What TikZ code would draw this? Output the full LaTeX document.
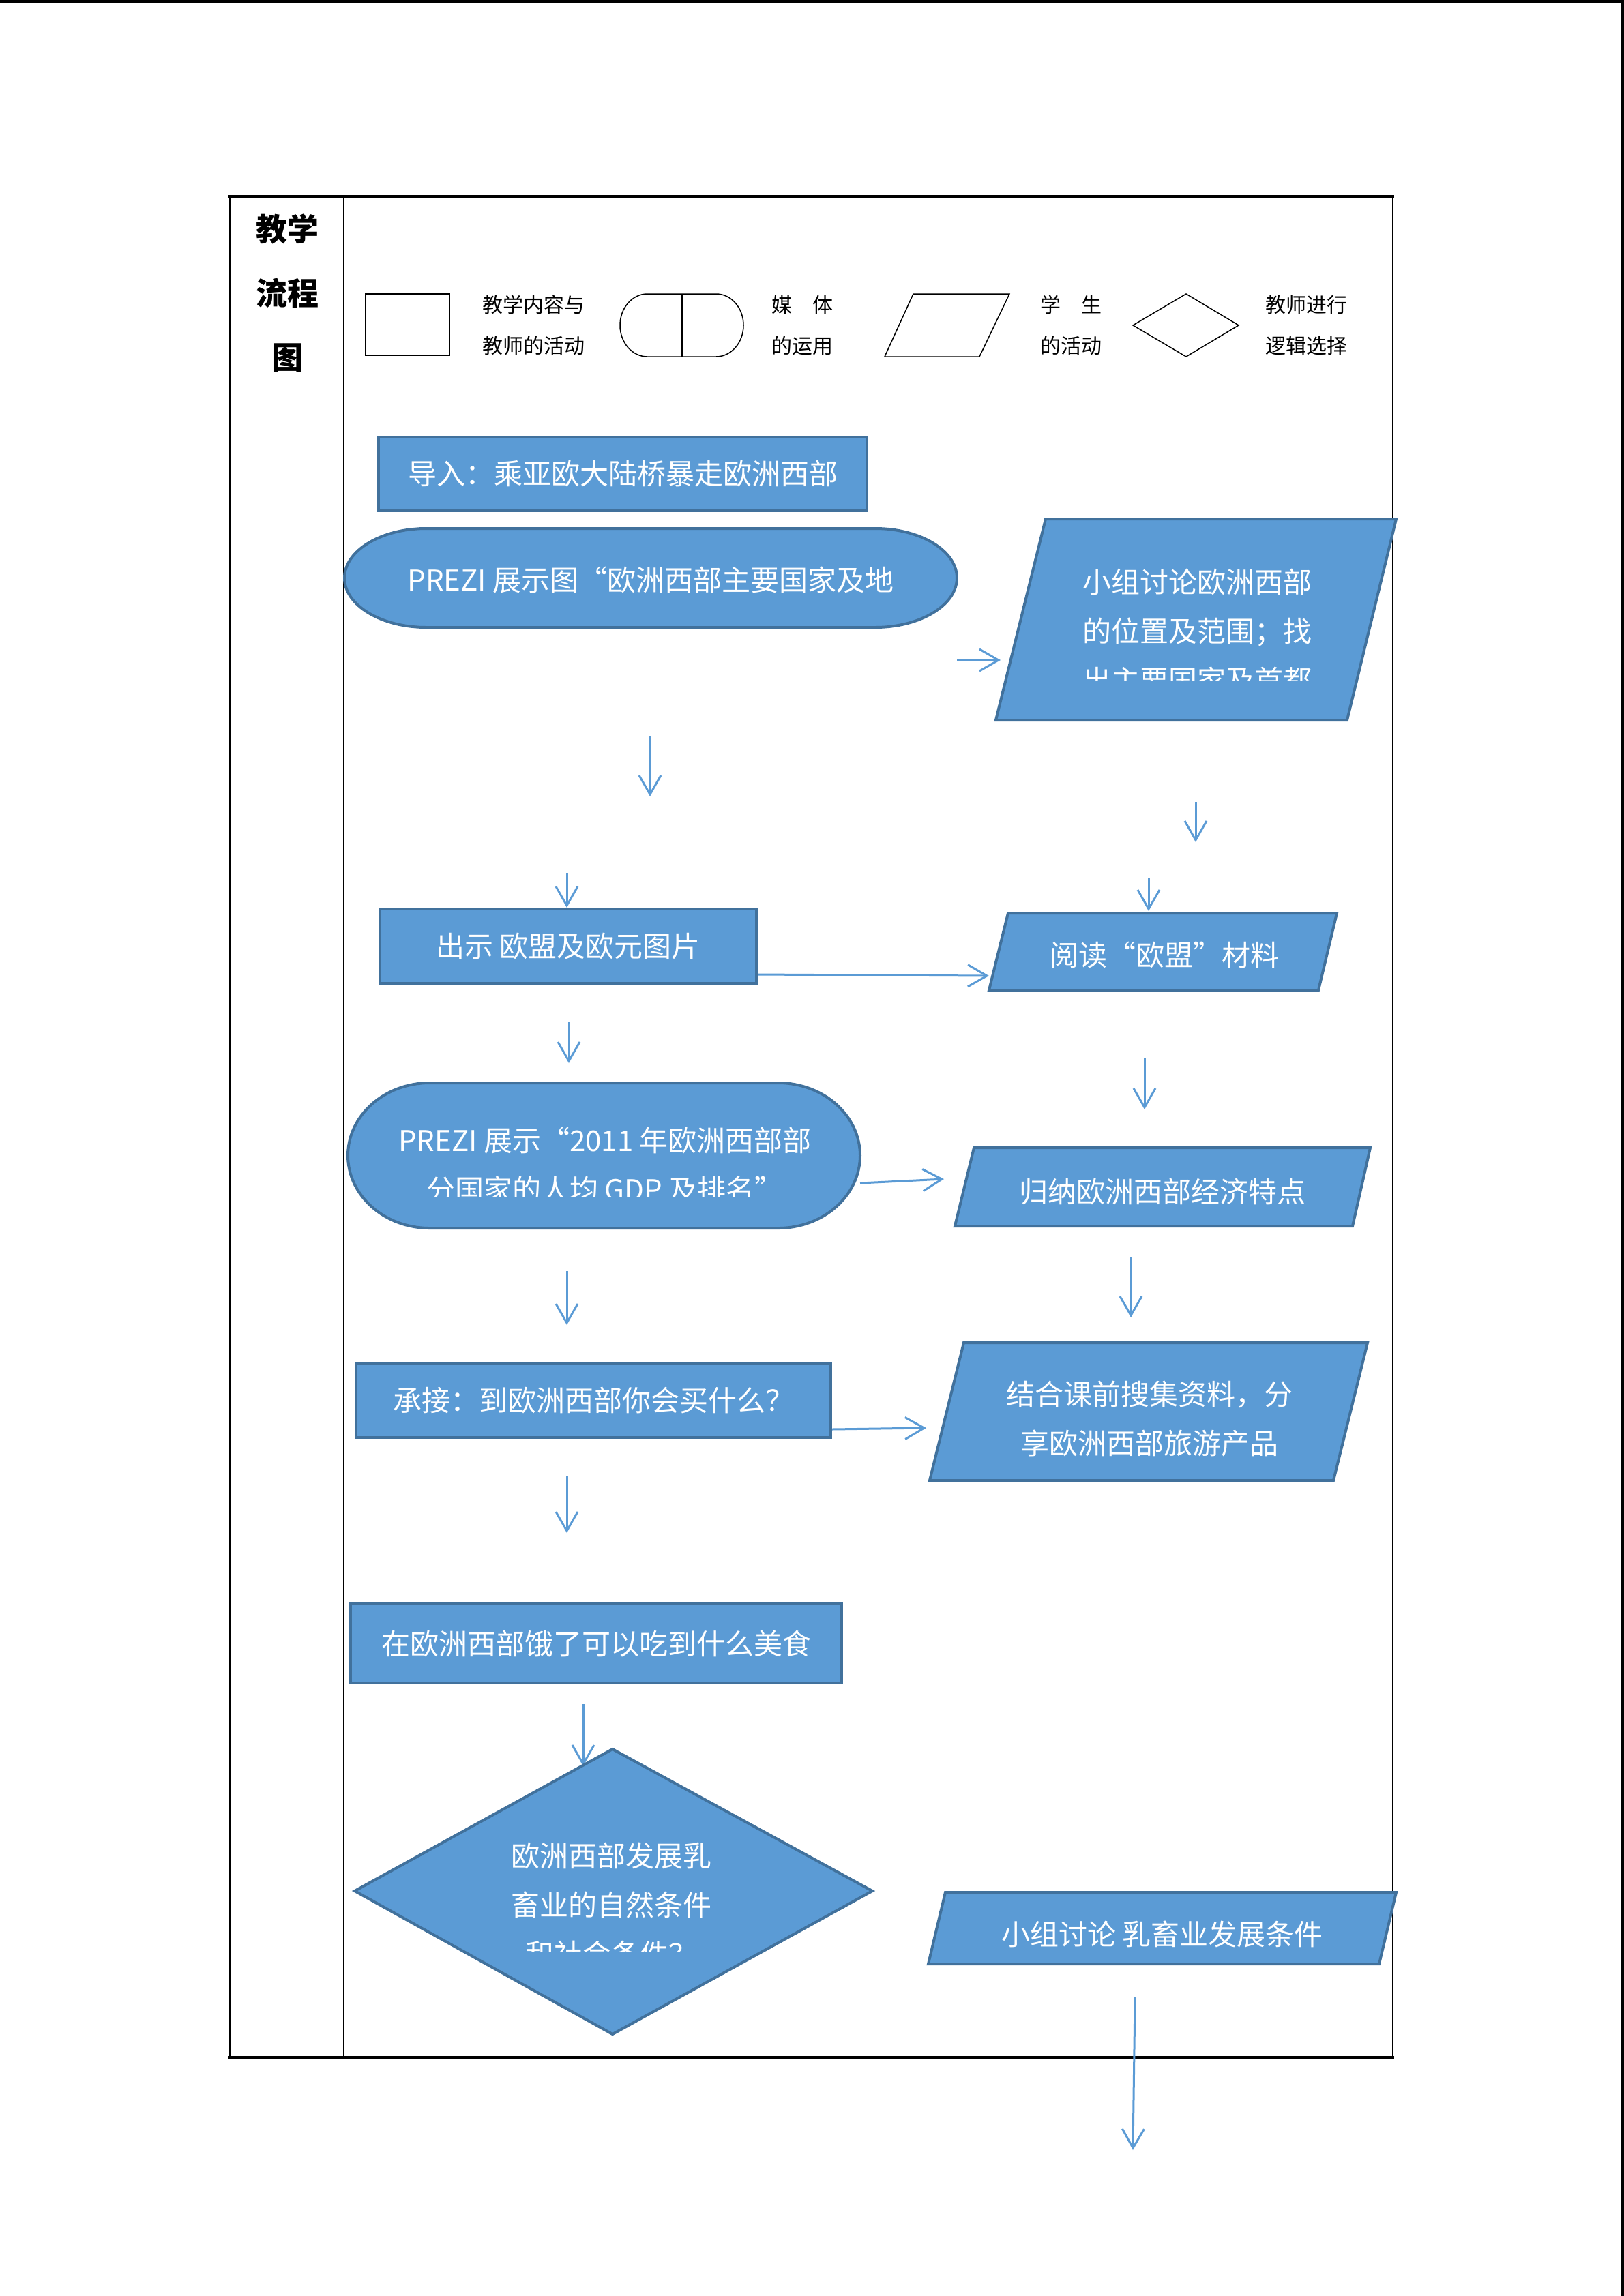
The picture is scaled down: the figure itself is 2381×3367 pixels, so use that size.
\documentclass[tikz,border=0pt]{standalone}
\usepackage{fontspec}
\setmainfont{Noto Sans CJK SC}
\newfontfamily\cjk{Noto Sans CJK SC}
\usetikzlibrary{arrows.meta,calc}
\definecolor{fillblue}{RGB}{91,155,213}
\definecolor{edgeblue}{RGB}{65,113,156}
\begin{document}
\begin{tikzpicture}[x=1pt,y=-1pt,
  shapebox/.style={draw=edgeblue, fill=fillblue, line width=4pt},
  boxnode/.style={shapebox, inner sep=0pt, text=white, font=\cjk\fontsize{42}{72}\selectfont},
  lbl/.style={text=white, font=\cjk\fontsize{42}{72}\selectfont, align=center, inner sep=0pt},
  legendtxt/.style={font=\cjk\fontsize{30}{60}\selectfont, align=center, inner sep=0pt},
  legendshape/.style={draw=black, line width=1.5pt},
  arr/.style={draw=fillblue, line width=3pt, -{Straight Barb[length=28pt,width=32pt]}},
  tablerule/.style={draw=black, line width=3.5pt},
  tablecol/.style={draw=black, line width=1.5pt},
  pageedge/.style={draw=black, line width=4pt},
]
\useasboundingbox (0,0) rectangle (2381,3367);

% page edges
\draw[pageedge] (0,2) -- (2381,2);
\draw[pageedge] (2379,0) -- (2379,3367);

% table
\draw[tablecol] (337,288) -- (337,3017);
\draw[tablecol] (504,288) -- (504,3017);
\draw[tablecol] (2042,288) -- (2042,3017);
\draw[tablerule] (335,288) -- (2044,288);
\draw[tablerule] (335,3017) -- (2044,3017);

\node[font=\cjk\bfseries\fontsize{46}{94}\selectfont, align=center, inner sep=0pt] (title) at (421,430) {教学\\流程\\图};

% legend
\draw[legendshape] (536,431) rectangle (659,521);
\node[legendtxt] (lg1) at (782,477) {教学内容与\\教师的活动};
\draw[legendshape] (949,431) -- (1050,431) arc[start angle=90, end angle=-90, x radius=40pt, y radius=46pt] -- (949,523) arc[start angle=270, end angle=90, x radius=40pt, y radius=46pt] -- cycle;
\draw[legendshape] (1000,431) -- (1000,523);
\node[legendtxt] (lg2) at (1176,477) {媒　体\\的运用};
\draw[legendshape] (1339,431) -- (1480,431) -- (1436,523) -- (1297,523) -- cycle;
\node[legendtxt] (lg3) at (1570,477) {学　生\\的活动};
\draw[legendshape] (1661,477) -- (1739,431) -- (1816,477) -- (1739,523) -- cycle;
\node[legendtxt] (lg4) at (1915,477) {教师进行\\逻辑选择};

% box 1
\node[boxnode, minimum width=716pt, minimum height=108pt] (b1) at (913,695) {导入：乘亚欧大陆桥暴走欧洲西部};

% stadium 1
\draw[shapebox] (625,775) -- (1283,775) arc[start angle=90, end angle=-90, x radius=120pt, y radius=72.5pt] -- (625,920) arc[start angle=270, end angle=90, x radius=120pt, y radius=72.5pt] -- cycle;
\node[lbl] (s1) at (954,850) {PREZI 展示图“欧洲西部主要国家及地};

% parallelogram 1
\draw[shapebox] (1533,761) -- (2047,761) -- (1975,1056) -- (1460,1056) -- cycle;
\begin{scope}
\clip (1400,740) rectangle (2100,998);
\node[lbl] (p1) at (1755,925) {小组讨论欧洲西部\\的位置及范围；找\\出主要国家及首都};
\end{scope}

\coordinate (a1s) at (1403,968);
\coordinate (a1e) at (1467,968);
\draw[arr] (a1s) -- (a1e);

\coordinate (a2s) at (953,1079);
\coordinate (a2e) at (953,1168);
\draw[arr] (a2s) -- (a2e);

\coordinate (a4s) at (1753,1176);
\coordinate (a4e) at (1753,1235);
\draw[arr] (a4s) -- (a4e);

% box 2
\node[boxnode, minimum width=552pt, minimum height=109pt] (b2) at (833,1387.5) {出示 欧盟及欧元图片};
\coordinate (a3s) at (831,1280);
\draw[arr] (a3s) -- (a3s |- b2.north);

% parallelogram 2
\draw[shapebox] (1478,1339) -- (1960,1339) -- (1933,1452) -- (1450,1452) -- cycle;
\node[lbl] (p2) at (1707,1400) {阅读“欧盟”材料};
\coordinate (a5s) at (1684,1287);
\coordinate (a5e) at (1684,1336);
\draw[arr] (a5s) -- (a5e);

\coordinate (a6e) at (1450,1431);
\draw[arr] ($(b2.south east)+(0,-15)$) -- (a6e);

\coordinate (a7s) at (834,1498);
\coordinate (a7e) at (834,1559);
\draw[arr] (a7s) -- (a7e);

\coordinate (a8s) at (1678,1551);
\coordinate (a8e) at (1678,1627);
\draw[arr] (a8s) -- (a8e);

% stadium 2
\draw[shapebox] (630,1588) -- (1141,1588) arc[start angle=90, end angle=-90, x radius=120pt, y radius=106.5pt] -- (630,1801) arc[start angle=270, end angle=90, x radius=120pt, y radius=106.5pt] -- cycle;
\begin{scope}
\clip (520,1600) rectangle (1250,1754);
\node[lbl] (s2) at (887,1708) {PREZI 展示“2011 年欧洲西部部\\分国家的人均 GDP 及排名”};
\end{scope}

% parallelogram 3
\draw[shapebox] (1428,1683) -- (2009,1683) -- (1983,1798) -- (1400,1798) -- cycle;
\node[lbl] (p3) at (1704,1748) {归纳欧洲西部经济特点};

\coordinate (a9s) at (1261,1735);
\coordinate (a9e) at (1384,1729);
\draw[arr] (a9s) -- (a9e);

\coordinate (a10s) at (1658,1844);
\coordinate (a10e) at (1658,1932);
\draw[arr] (a10s) -- (a10e);

\coordinate (a11s) at (831,1864);
\coordinate (a11e) at (831,1943);
\draw[arr] (a11s) -- (a11e);

% box 3
\node[boxnode, minimum width=696pt, minimum height=109pt] (b3) at (870,2053.5) {承接：到欧洲西部你会买什么？};

% parallelogram 4
\draw[shapebox] (1413,1969) -- (2005,1969) -- (1955,2171) -- (1363,2171) -- cycle;
\node[lbl] (p4) at (1685,2081) {结合课前搜集资料，分\\享欧洲西部旅游产品};

\coordinate (a12e) at (1358,2094);
\draw[arr] ($(b3.south east)+(0,-14)$) -- (a12e);

\coordinate (a13s) at (831,2164);
\coordinate (a13e) at (831,2248);
\draw[arr] (a13s) -- (a13e);

% box 4
\node[boxnode, minimum width=720pt, minimum height=116pt] (b4) at (874,2410) {在欧洲西部饿了可以吃到什么美食};

% arrow into diamond (under it)
\coordinate (a14s) at (855,2499);
\coordinate (a14e) at (855,2590);
\draw[arr] (a14s) -- (a14e);

% diamond
\draw[shapebox] (520,2773) -- (898,2565) -- (1279,2773) -- (898,2983) -- cycle;
\begin{scope}
\clip (600,2600) rectangle (1200,2861);
\node[lbl] (d1) at (896,2793) {欧洲西部发展乳\\畜业的自然条件\\和社会条件？};
\end{scope}

% parallelogram 5
\draw[shapebox] (1386,2775) -- (2047,2775) -- (2022,2880) -- (1361,2880) -- cycle;
\node[lbl] (p5) at (1704,2836) {小组讨论 乳畜业发展条件};

\coordinate (a15s) at (1664,2929);
\coordinate (a15e) at (1661,3153);
\draw[arr] (a15s) -- (a15e);

\end{tikzpicture}
\end{document}
